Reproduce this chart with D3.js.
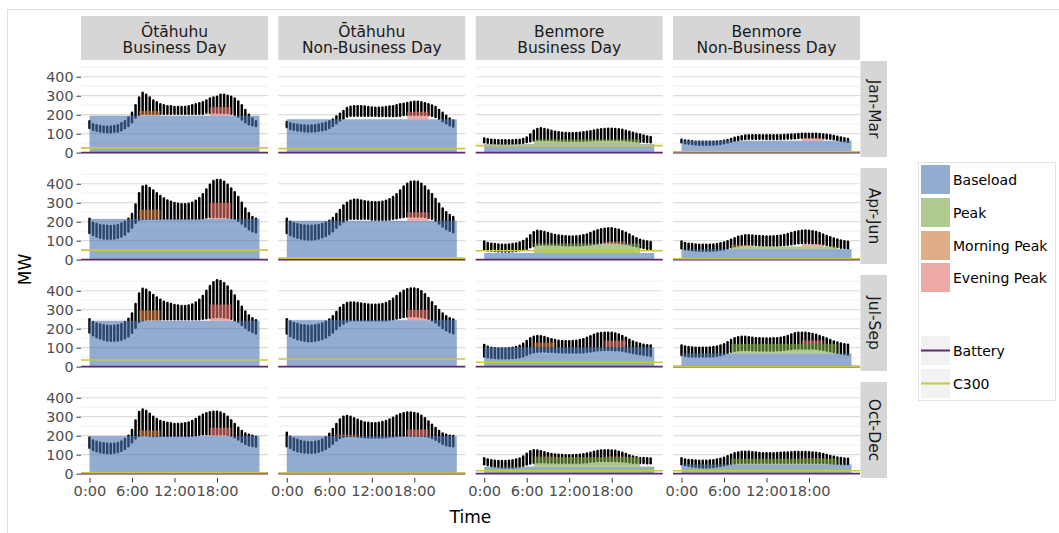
<!DOCTYPE html>
<html><head><meta charset="utf-8">
<script src="https://cdn.jsdelivr.net/npm/d3@7"></script>
<style>body{margin:0;background:#fff;} text{font-family:"DejaVu Sans",sans-serif;}</style>
</head><body><svg id="c" width="1059" height="533"></svg>
<script>
// ---------------- DATA ----------------
const stations = ["Ōtāhuhu", "Ōtāhuhu", "Benmore", "Benmore"];
const dayTypes = ["Business Day", "Non-Business Day", "Business Day", "Non-Business Day"];
const quarters = ["Jan-Mar", "Apr-Jun", "Jul-Sep", "Oct-Dec"];
const xTicks = [0, 6, 12, 18];
const xTickLabels = ["0:00", "6:00", "12:00", "18:00"];
const yTicks = [0, 100, 200, 300, 400];
const yMinor = [50, 150, 250, 350, 450];
const halfHours = d3.range(48).map(i => i / 2);
const layerNames = ["Baseload", "Peak", "Morning Peak", "Evening Peak"];
const layerWindows = [[0, 24], [7, 22], [7, 10], [17, 20]];
const lineNames = ["Battery", "C300"];

// stacked block levels (MW), panels row-major: OtaBus, OtaNB, BenBus, BenNB
const baseload = [195, 176, 45, 63,  215, 205, 35, 55,  242, 245, 102, 70,  198, 198, 37, 49];
const peak     = [0, 0, 25, 0,       0, 0, 50, 15,      0, 0, 0, 50,        0, 0, 50, 30];
const morning  = [25, 0, 0, 0,       48, 0, 0, 8,       55, 0, 25, 0,       30, 8, 3, 0];
const evening  = [45, 40, 0, 15,     85, 45, 10, 12,    85, 55, 35, 18,     44, 35, 3, 3];
const battery  = [0, 0, 0, 0,        0, 0, 0, 0,        0, 0, 0, 0,         0, 0, 0, 0];
const c300     = [25, 21, 37, 5,     50, 8, 47, 5,      35, 40, 23, 2,      5, 3, 15, 15];

// half-hourly observed load range (MW): low and high of daily points
const otaBusQ1Hi = [165,150,145,140,138,137,138,140,145,155,165,185,210,250,290,315,305,290,275,265,255,250,245,245,240,240,240,240,245,250,255,260,265,275,285,290,295,305,305,300,295,285,270,250,225,200,180,165];
const otaBusQ1Lo = [130,120,115,112,110,108,108,110,112,118,128,140,160,185,200,205,205,205,205,205,205,205,205,205,205,205,205,205,205,205,205,205,205,210,210,212,212,210,210,210,205,200,190,175,160,150,145,140];
const otaNbQ1Hi = [162,155,150,147,145,143,142,143,145,148,152,158,165,175,190,205,220,235,242,245,245,245,243,240,238,237,237,238,240,243,245,250,255,258,262,265,268,268,265,260,255,248,240,225,210,195,180,170];
const otaNbQ1Lo = [135,125,120,117,115,113,112,112,113,115,118,122,130,140,155,170,180,190,195,195,195,195,195,195,195,195,193,193,193,193,193,193,195,198,200,200,200,200,200,200,198,195,188,178,165,155,145,138];
const benBusQ1Hi = [75,70,68,66,65,65,65,65,65,66,68,72,80,95,115,125,128,125,120,115,110,107,105,103,102,102,103,105,107,110,113,117,120,123,125,126,126,125,123,120,115,110,105,100,95,90,85,82];
const benBusQ1Lo = [55,52,50,48,47,46,46,46,47,48,50,52,56,60,64,66,66,66,66,66,65,64,63,62,62,62,62,62,63,64,65,66,67,68,68,68,68,68,67,66,65,63,61,60,58,57,56,55];
const benNbQ1Hi = [68,64,62,60,58,58,57,57,57,58,59,60,63,67,72,78,83,87,90,92,92,92,92,92,91,91,91,91,92,93,94,95,96,98,100,100,100,100,99,98,96,94,92,88,84,80,76,72];
const benNbQ1Lo = [55,50,47,45,43,42,42,42,42,43,44,46,49,53,58,63,67,70,72,73,73,73,73,73,72,72,72,72,72,73,74,75,76,77,78,78,78,78,78,77,76,75,73,70,67,63,60,57];

const otaBusQ2Hi = [215,195,188,183,180,178,177,178,182,190,200,215,240,290,350,385,390,378,365,350,335,322,312,305,298,295,292,292,295,300,310,325,345,370,395,415,420,420,410,395,375,355,330,300,270,245,225,215];
const otaBusQ2Lo = [140,130,122,116,112,110,110,112,116,122,132,148,170,195,210,215,215,215,215,215,215,215,215,215,215,215,215,215,215,215,215,215,218,222,225,225,225,225,225,222,220,215,205,190,175,160,150,145];
const otaNbQ2Hi = [215,200,192,186,182,180,178,178,180,183,188,195,205,220,240,262,285,300,310,315,315,312,308,305,303,302,302,305,310,318,330,345,365,385,400,410,412,410,400,385,365,345,320,295,270,250,235,225];
const otaNbQ2Lo = [140,130,122,116,112,108,106,106,108,112,118,125,135,150,168,185,200,210,215,215,215,215,215,215,212,210,210,210,210,212,215,218,222,225,228,228,228,228,228,225,220,215,205,190,175,162,152,145];
const benBusQ2Hi = [95,88,84,82,80,79,79,80,82,85,90,98,110,128,145,152,150,146,140,135,130,127,125,123,122,122,123,125,128,133,140,148,155,160,163,165,165,162,157,150,142,132,122,113,105,100,96,93];
const benBusQ2Lo = [55,50,47,45,44,43,43,43,44,46,49,53,58,65,72,78,80,80,80,80,79,78,77,76,76,76,76,76,77,78,80,82,85,88,90,90,90,90,89,87,84,80,75,70,65,61,58,56];
const benNbQ2Hi = [95,88,84,82,80,79,78,78,79,80,83,86,90,97,105,113,120,125,128,128,127,125,124,123,122,122,123,124,126,130,135,140,146,150,152,153,152,150,146,140,133,125,118,112,106,101,97,94];
const benNbQ2Lo = [60,55,52,50,48,47,47,47,47,48,50,52,55,60,65,70,74,77,78,78,78,77,76,75,75,75,75,75,76,77,79,81,84,86,88,88,88,87,86,84,81,77,73,69,66,63,61,60];

const otaBusQ3Hi = [250,235,228,222,218,215,214,215,218,225,235,252,280,330,385,410,405,392,378,365,352,342,335,330,325,322,320,320,322,328,338,352,372,400,425,445,455,452,440,422,400,375,345,315,290,270,255,245];
const otaBusQ3Lo = [180,165,155,148,142,138,136,136,138,142,150,160,178,205,235,245,248,250,250,250,250,250,250,250,250,250,250,250,250,250,250,250,252,255,258,260,262,262,260,258,252,245,235,220,205,192,182,175];
const otaNbQ3Hi = [250,238,230,225,220,218,216,216,218,222,228,236,248,265,288,310,325,335,338,338,336,333,330,328,326,326,327,330,336,345,358,372,388,400,408,412,412,408,398,382,362,340,318,298,280,265,255,248];
const otaNbQ3Lo = [175,162,152,145,140,136,134,134,136,140,146,154,165,180,198,215,228,238,244,245,245,245,245,245,245,245,245,245,245,247,250,254,258,262,264,265,265,264,262,258,252,244,232,218,204,192,182,176];
const benBusQ3Hi = [114,105,100,97,96,96,96,97,99,103,110,120,135,150,158,161,160,156,150,145,140,137,135,134,134,135,137,140,145,152,160,168,174,177,179,179,178,175,170,162,152,142,133,126,120,116,113,112];
const benBusQ3Lo = [53,50,47,45,44,44,44,44,45,47,50,55,62,70,76,79,80,80,79,78,77,76,75,74,74,74,74,75,76,78,80,83,86,88,88,88,88,87,86,84,80,76,72,68,65,62,60,58];
const benNbQ3Hi = [112,106,103,101,100,100,100,100,101,103,106,111,118,128,140,150,155,158,157,155,152,150,149,148,148,148,149,150,152,156,162,170,176,179,179,178,176,172,168,162,155,148,140,133,127,122,118,115];
const benNbQ3Lo = [61,57,55,54,53,53,53,53,54,55,57,60,65,72,79,84,87,88,88,88,87,86,85,85,85,85,85,86,87,89,91,93,95,96,96,96,96,95,94,92,89,85,81,77,73,69,66,63];

const otaBusQ4Hi = [190,175,168,163,160,158,157,158,162,170,182,200,230,280,325,338,330,315,300,288,278,272,268,265,262,262,263,265,270,278,288,300,310,318,324,326,326,322,314,300,282,262,242,225,212,205,200,195];
const otaBusQ4Lo = [137,125,118,113,110,108,108,110,114,120,130,145,165,185,198,202,202,200,198,198,198,198,198,198,198,198,198,198,198,200,202,205,207,208,208,208,208,208,207,205,200,192,180,168,158,150,146,143];
const otaNbQ4Hi = [215,195,185,178,172,168,166,166,168,172,180,192,210,235,262,285,300,304,300,292,284,276,270,268,266,266,268,272,278,286,295,305,313,318,322,322,320,315,305,292,275,258,240,225,212,205,200,198];
const otaNbQ4Lo = [145,135,125,118,114,112,110,110,112,116,122,130,142,158,175,188,195,198,198,198,196,194,192,190,190,190,190,191,192,194,196,198,200,200,200,200,200,200,200,198,195,188,178,168,158,150,146,145];
const benBusQ4Hi = [81,74,70,68,67,67,67,68,70,74,80,90,105,118,123,122,118,113,108,104,101,99,98,97,97,97,98,100,102,106,110,115,119,122,123,123,122,120,116,110,103,96,90,86,83,82,81,80];
const benBusQ4Lo = [49,45,40,37,35,33,32,32,33,35,38,42,48,54,58,60,60,60,59,59,58,58,58,58,58,58,58,58,59,60,62,64,66,67,67,67,67,66,65,64,62,60,58,57,56,56,55,55];
const benNbQ4Hi = [81,75,72,70,69,68,68,68,69,71,74,78,84,92,100,107,112,115,116,115,113,111,109,108,107,107,108,109,110,111,112,113,114,114,114,114,113,112,110,107,103,98,93,89,85,82,80,78];
const benNbQ4Lo = [49,45,41,38,36,34,33,33,34,35,37,40,44,48,52,55,57,58,58,58,58,58,58,58,58,58,58,58,58,58,58,58,58,58,58,58,58,58,58,58,57,56,55,54,52,51,50,49];

const loadHi = [otaBusQ1Hi, otaNbQ1Hi, benBusQ1Hi, benNbQ1Hi, otaBusQ2Hi, otaNbQ2Hi, benBusQ2Hi, benNbQ2Hi,
                otaBusQ3Hi, otaNbQ3Hi, benBusQ3Hi, benNbQ3Hi, otaBusQ4Hi, otaNbQ4Hi, benBusQ4Hi, benNbQ4Hi];
const loadLo = [otaBusQ1Lo, otaNbQ1Lo, benBusQ1Lo, benNbQ1Lo, otaBusQ2Lo, otaNbQ2Lo, benBusQ2Lo, benNbQ2Lo,
                otaBusQ3Lo, otaNbQ3Lo, benBusQ3Lo, benNbQ3Lo, otaBusQ4Lo, otaNbQ4Lo, benBusQ4Lo, benNbQ4Lo];

// ---------------- STYLE / LAYOUT ----------------
const layerColors = ["#4d75b1", "#7ba543", "#cb7639", "#e3736b"];
const layerAlpha = 0.6;
const lineColors = ["#5a2c6e", "#c9c83e"];
const W = 187, H = 96;
const colX = [81, 278.3, 475.7, 673];
const rowY = [61, 168, 275, 382];

const svg = d3.select("#c");
svg.append("rect").attr("x", 7.5).attr("y", 9.5).attr("width", 1070).attr("height", 540)
  .attr("fill", "#fff").attr("stroke", "#e0e0e0");

const x = d3.scaleLinear().domain([-1.2, 25.2]).range([0, W]);
const y = d3.scaleLinear().domain([-23, 483]).range([H, 0]);

for (let r = 0; r < 4; r++) {
  for (let c = 0; c < 4; c++) {
    const p = r * 4 + c;
    const g = svg.append("g").attr("transform", `translate(${colX[c]},${rowY[r]})`);
    g.append("rect").attr("width", W).attr("height", H).attr("fill", "#fff");
    g.selectAll(".mn").data(yMinor).join("line")
      .attr("x1", 0).attr("x2", W).attr("y1", d => y(d)).attr("y2", d => y(d))
      .attr("stroke", "#ececec").attr("stroke-width", 0.8);
    g.selectAll(".mj").data(yTicks).join("line")
      .attr("x1", 0).attr("x2", W).attr("y1", d => y(d)).attr("y2", d => y(d))
      .attr("stroke", "#dcdcdc").attr("stroke-width", 1.2);

    // daily load points, drawn as half-hourly columns
    const hi = loadHi[p], lo = loadLo[p];
    g.selectAll(".pt").data(halfHours).join("line")
      .attr("x1", d => x(d)).attr("x2", d => x(d))
      .attr("y1", (d, i) => y(lo[i])).attr("y2", (d, i) => y(hi[i]))
      .attr("stroke", "#000").attr("stroke-width", 2.5).attr("stroke-linecap", "round");

    // stacked blocks
    const levels = [baseload[p], peak[p], morning[p], evening[p]];
    const bottoms = [0, baseload[p], baseload[p] + peak[p], baseload[p] + peak[p]];
    layerNames.forEach((nm, k) => {
      if (levels[k] <= 0) return;
      const [t0, t1] = layerWindows[k];
      g.append("rect")
        .attr("x", x(t0)).attr("width", x(t1) - x(t0))
        .attr("y", y(bottoms[k] + levels[k]))
        .attr("height", y(bottoms[k]) - y(bottoms[k] + levels[k]))
        .attr("fill", layerColors[k]).attr("fill-opacity", layerAlpha);
    });

    // battery and C300 lines
    [battery[p], c300[p]].forEach((v, k) => {
      g.append("line").attr("x1", 0).attr("x2", W).attr("y1", y(v)).attr("y2", y(v))
        .attr("stroke", lineColors[k]).attr("stroke-width", 1.6);
    });

    // y axis
    if (c === 0) {
      const ax = g.append("g").call(d3.axisLeft(y).tickValues(yTicks).tickSize(4.5).tickPadding(3));
      ax.select(".domain").remove();
      ax.selectAll("line").attr("stroke", "#333");
      ax.selectAll("text").attr("fill", "#4d4d4d").style("font-size", "14.3px").style("font-family", "DejaVu Sans");
    }
    // x axis
    if (r === 3) {
      const ax = g.append("g").attr("transform", `translate(0,${H})`)
        .call(d3.axisBottom(x).tickValues(xTicks).tickFormat((d, i) => xTickLabels[i]).tickSize(4.5).tickPadding(3));
      ax.select(".domain").remove();
      ax.selectAll("line").attr("stroke", "#333");
      ax.selectAll("text").attr("fill", "#4d4d4d").style("font-size", "14.6px").style("font-family", "DejaVu Sans");
    }
    // top strips
    if (r === 0) {
      const s = svg.append("g").attr("transform", `translate(${colX[c]},16)`);
      s.append("rect").attr("width", W).attr("height", 44).attr("fill", "#d6d6d6");
      s.append("text").attr("x", W / 2).attr("y", 20.7).attr("text-anchor", "middle")
        .attr("fill", "#1a1a1a").style("font-size", "15.5px").text(stations[c]);
      s.append("text").attr("x", W / 2).attr("y", 37.3).attr("text-anchor", "middle")
        .attr("fill", "#1a1a1a").style("font-size", "15.5px").text(dayTypes[c]);
    }
    // right strips
    if (c === 3) {
      const s = svg.append("g").attr("transform", `translate(${colX[c] + W + 0.5},${rowY[r]})`);
      s.append("rect").attr("width", 26.5).attr("height", H).attr("fill", "#d6d6d6");
      s.append("text").attr("transform", `translate(8,${H / 2}) rotate(90)`).attr("text-anchor", "middle")
        .attr("fill", "#1a1a1a").style("font-size", "15.5px").text(quarters[r]);
    }
  }
}

// axis titles
svg.append("text").attr("x", 470.5).attr("y", 523).attr("text-anchor", "middle")
  .style("font-size", "17px").attr("fill", "#000").text("Time");
svg.append("text").attr("transform", "translate(31,269.5) rotate(-90)").attr("text-anchor", "middle")
  .style("font-size", "17px").attr("fill", "#000").text("MW");

// legend
const lg = svg.append("g").attr("transform", "translate(918,162)");
lg.append("rect").attr("x", 0.5).attr("y", 0.5).attr("width", 137).attr("height", 238)
  .attr("fill", "#fff").attr("stroke", "#e3e3e3");
const keyY = [3, 36, 69, 101];
layerNames.forEach((nm, k) => {
  lg.append("rect").attr("x", 3).attr("y", keyY[k]).attr("width", 29).attr("height", 29)
    .attr("fill", layerColors[k]).attr("fill-opacity", layerAlpha);
  lg.append("text").attr("x", 35).attr("y", keyY[k] + 19.5).style("font-size", "14px").attr("fill", "#000").text(nm);
});
const lineKeyY = [174, 207];
lineNames.forEach((nm, k) => {
  lg.append("rect").attr("x", 3).attr("y", lineKeyY[k]).attr("width", 29).attr("height", 29).attr("fill", "#f2f2f2");
  lg.append("line").attr("x1", 3).attr("x2", 32).attr("y1", lineKeyY[k] + 14.5).attr("y2", lineKeyY[k] + 14.5)
    .attr("stroke", lineColors[k]).attr("stroke-width", 2);
  lg.append("text").attr("x", 35).attr("y", lineKeyY[k] + 19.5).style("font-size", "14px").attr("fill", "#000").text(nm);
});
</script></body></html>
